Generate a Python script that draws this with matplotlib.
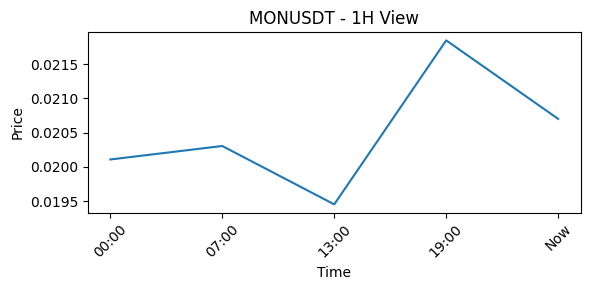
import matplotlib
matplotlib.use("Agg")
import matplotlib.pyplot as plt

times = ["00:00", "07:00", "13:00", "19:00", "Now"]
prices = [0.020107, 0.020304, 0.019451, 0.021847, 0.020700]

fig, ax = plt.subplots(figsize=(5.9, 2.9), dpi=100)
ax.plot(times, prices, color="#1f77b4", linewidth=1.5)
ax.set_title("MONUSDT - 1H View")
ax.set_xlabel("Time")
ax.set_ylabel("Price")
ax.set_yticks([0.0195, 0.0200, 0.0205, 0.0210, 0.0215])
ax.tick_params(axis="x", rotation=45)
fig.subplots_adjust(left=0.149, right=0.984, bottom=0.267, top=0.889)
fig.savefig("out.png", dpi=100)
plt.close(fig)
